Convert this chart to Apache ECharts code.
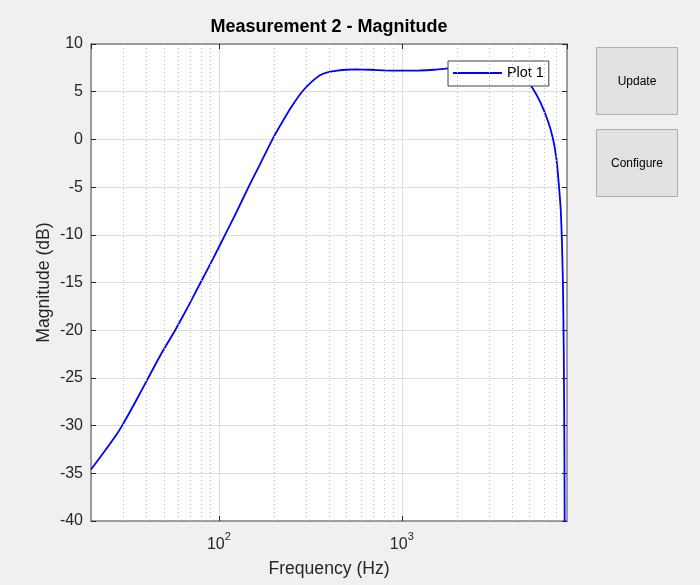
<!DOCTYPE html>
<html>
<head>
<meta charset="utf-8">
<script src="https://cdn.jsdelivr.net/npm/echarts@6/dist/echarts.min.js"></script>
<style>
  html, body { margin: 0; padding: 0; background: #f0f0f0; }
  #root { width: 700px; height: 585px; }
</style>
</head>
<body>
<div id="root"></div>
<script>
// frequency response
var freqHz = [20, 23.5, 27, 29.6, 35, 41.1, 48, 57.7, 68, 79.5, 93, 108.1, 125, 145.2, 170, 196.3,
    225, 252, 285, 320, 359, 397, 444, 498, 560, 670, 800, 1000, 1250, 1500, 1800, 2200, 2700, 3300, 4000, 4600,
    5100, 5700, 6300, 6700, 7000, 7150, 7300, 7400, 7500, 7600, 7680, 7740, 7800];
var magDb = [-34.6, -32.8, -31.2, -30, -27.5, -25, -22.6, -20.0, -17.5, -15, -12.5, -10, -7.6, -5, -2.4, 0,
    2.0, 3.55, 5.0, 6.0, 6.75, 7.05, 7.2, 7.3, 7.33, 7.3, 7.24, 7.2, 7.22, 7.3, 7.45, 7.52, 7.55, 7.5, 7.2, 6.6,
    5.6, 3.95, 1.9, 0.1, -2.0, -3.8, -5.9, -7.5, -10.5, -15, -22, -32, -50];
var minorGridHz = [30, 40, 50, 60, 70, 80, 90, 200, 300, 400, 500, 600, 700, 800, 900,
    2000, 3000, 4000, 5000, 6000, 7000];
var xMin = 20, xMax = 8000;
var yMin = -40, yMax = 10, yStep = 5;

var font = 'Liberation Sans, Arial, Helvetica, sans-serif';
var ink = '#262626';
var axisGray = '#808080';

var chart = echarts.init(document.getElementById('root'));

var baseAxisLine = { show: true, onZero: false, lineStyle: { color: axisGray, width: 1.5 } };
var baseTick = { show: true, inside: true, length: 5, lineStyle: { color: ink, width: 1 } };

var option = {
    backgroundColor: '#f0f0f0',
    animation: false,
    title: {
        text: 'Measurement 2 - Magnitude',
        left: 329,
        textAlign: 'center',
        top: 18,
        padding: 0,
        textStyle: { fontFamily: font, fontSize: 18, fontWeight: 'bold', color: '#000' }
    },
    legend: {
        left: 448,
        top: 61,
        padding: [5, 5, 6, 5],
        itemWidth: 49,
        itemHeight: 2,
        backgroundColor: '#ffffff',
        borderColor: '#404040',
        borderWidth: 1,
        borderRadius: 0,
        textStyle: { fontFamily: font, fontSize: 14.4, color: '#000' },
        data: [{ name: 'Plot 1', icon: 'rect' }]
    },
    grid: {
        left: 91,
        top: 44,
        width: 476,
        height: 477,
        show: true,
        backgroundColor: '#ffffff',
        borderWidth: 0
    },
    xAxis: [{
        type: 'log',
        logBase: 10,
        min: xMin,
        max: xMax,
        name: 'Frequency (Hz)',
        nameLocation: 'middle',
        nameGap: 39,
        nameMoveOverlap: false,
        nameTextStyle: { fontFamily: font, fontSize: 17.6, color: ink },
        axisLine: baseAxisLine,
        axisTick: baseTick,
        axisLabel: {
            showMinLabel: false,
            showMaxLabel: false,
            margin: 10,
            formatter: function (v) {
                var e = Math.round(Math.log(v) / Math.LN10);
                return '{b|10}{s|' + e + '}';
            },
            rich: {
                b: { fontFamily: font, fontSize: 16, color: ink, lineHeight: 22, verticalAlign: 'bottom' },
                s: { fontFamily: font, fontSize: 11, color: ink, lineHeight: 11, verticalAlign: 'top' }
            }
        },
        splitLine: { show: true, lineStyle: { color: '#dedede', width: 1 } },
        minorTick: { show: false },
        minorSplitLine: { show: false }
    }, {
        type: 'log',
        logBase: 10,
        min: xMin,
        max: xMax,
        position: 'top',
        axisLine: baseAxisLine,
        axisTick: baseTick,
        axisLabel: { show: false },
        splitLine: { show: false }
    }],
    yAxis: [{
        type: 'value',
        min: yMin,
        max: yMax,
        interval: yStep,
        name: 'Magnitude (dB)',
        nameLocation: 'middle',
        nameGap: 38,
        nameMoveOverlap: false,
        nameTextStyle: { fontFamily: font, fontSize: 17.6, color: ink },
        axisLine: baseAxisLine,
        axisTick: baseTick,
        axisLabel: { fontFamily: font, fontSize: 16, color: ink, margin: 8 },
        splitLine: { show: true, lineStyle: { color: '#dedede', width: 1 } }
    }, {
        type: 'value',
        min: yMin,
        max: yMax,
        interval: yStep,
        position: 'right',
        axisLine: baseAxisLine,
        axisTick: baseTick,
        axisLabel: { show: false },
        splitLine: { show: false }
    }],
    series: [{
        name: 'minor grid',
        type: 'line',
        data: [],
        z: 1,
        silent: true,
        markLine: {
            silent: true,
            symbol: 'none',
            label: { show: false },
            lineStyle: { color: '#bcbcbc', width: 1, type: [1, 3] },
            data: minorGridHz.map(function (f) { return { xAxis: f }; })
        }
    }, {
        name: 'Plot 1',
        type: 'line',
        symbol: 'none',
        smooth: 0.15,
        z: 3,
        clip: true,
        lineStyle: { color: '#0000ff', width: 1.8 },
        itemStyle: { color: '#0000ff' },
        data: freqHz.map(function (f, i) { return [f, magDb[i]]; })
    }],
    graphic: [{
        type: 'group',
        left: 596,
        top: 47,
        children: [{
            type: 'rect',
            shape: { x: 0, y: 0, width: 81, height: 67 },
            style: { fill: '#e1e1e1', stroke: '#adadad', lineWidth: 1 }
        }, {
            type: 'text',
            x: 40.5,
            y: 34,
            style: { text: 'Update', fontFamily: font, fontSize: 12, fill: '#000', align: 'center', verticalAlign: 'middle' }
        }]
    }, {
        type: 'group',
        left: 596,
        top: 129,
        children: [{
            type: 'rect',
            shape: { x: 0, y: 0, width: 81, height: 67 },
            style: { fill: '#e1e1e1', stroke: '#adadad', lineWidth: 1 }
        }, {
            type: 'text',
            x: 40.5,
            y: 34,
            style: { text: 'Configure', fontFamily: font, fontSize: 12, fill: '#000', align: 'center', verticalAlign: 'middle' }
        }]
    }]
};
chart.setOption(option);
</script>
</body>
</html>
